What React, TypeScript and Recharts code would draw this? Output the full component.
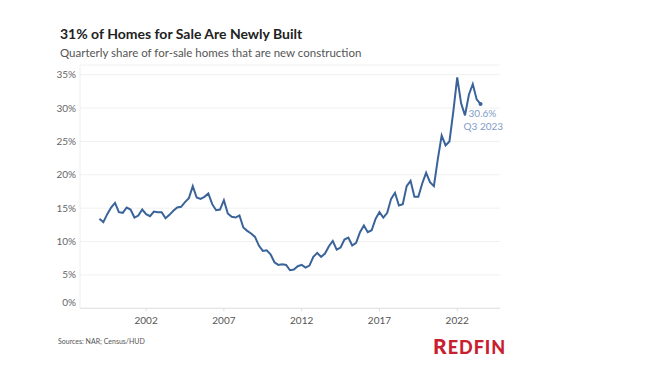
import { CartesianGrid, Line, LineChart, XAxis, YAxis } from 'recharts'

// quarterly share of for-sale homes that are new construction, 1999 Q1 .. 2023 Q3
const FIRST_YEAR = 1999
const newBuildShare = [
  13.4, 12.9, 14.1, 15.1, 15.8, 14.4, 14.3, 15.1, 14.8, 13.6,
  13.9, 14.8, 14.1, 13.8, 14.5, 14.4, 14.4, 13.5, 14.0, 14.6,
  15.1, 15.2, 15.9, 16.5, 18.3, 16.6, 16.4, 16.7, 17.2, 15.6,
  14.7, 14.8, 16.2, 14.2, 13.7, 13.6, 13.9, 12.1, 11.6, 11.2,
  10.7, 9.4, 8.6, 8.7, 8.1, 6.9, 6.5, 6.6, 6.5, 5.7,
  5.8, 6.3, 6.5, 6.1, 6.4, 7.7, 8.3, 7.7, 8.2, 9.3,
  10.1, 8.8, 9.1, 10.3, 10.6, 9.4, 9.8, 11.4, 12.4, 11.4,
  11.7, 13.4, 14.4, 13.6, 14.3, 16.4, 17.3, 15.4, 15.6, 18.3,
  19.1, 16.7, 16.7, 18.7, 20.3, 18.9, 18.3, 22.3, 25.9, 24.4,
  25.0, 29.5, 34.6, 30.7, 28.9, 32.0, 33.6, 31.3, 30.6,
]
const yearTicks = [2002, 2007, 2012, 2017, 2022]
const shareTicks = [0, 5, 10, 15, 20, 25, 30, 35]
const endLabel = ['30.6%', 'Q3 2023']

const data = newBuildShare.map((share, i) => ({
  period: FIRST_YEAR + i / 4,
  share,
}))

const FONT = 'Lato, "Open Sans", sans-serif'
const LINE = '#3a6399'

function YTick({ x, y, payload }: any) {
  // bottom label sits above the baseline, like the original
  const dy = payload.value === 0 ? -2 : 3.5
  return (
    <text x={x} y={y} dy={dy} textAnchor="end" fontSize={10} fill="#666" fontFamily={FONT}>
      {payload.value}%
    </text>
  )
}

function XTick({ x, y, payload }: any) {
  return (
    <text x={x} y={y} dy={11} textAnchor="middle" fontSize={10} fill="#555" fontFamily={FONT}>
      {payload.value}
    </text>
  )
}

function EndDot({ cx, cy, index }: any) {
  if (index !== data.length - 1) return <g key={index} />
  return <circle key={index} cx={cx} cy={cy} r={2} fill={LINE} />
}

function EndLabel({ x, y, index }: any) {
  if (index !== data.length - 1) return <g key={index} />
  return (
    <g key={index} fontFamily={FONT} fontSize={10} fill="#7f9dc6">
      <text x={x - 12} y={y + 13}>{endLabel[0]}</text>
      <text x={x - 17} y={y + 25.5}>{endLabel[1]}</text>
    </g>
  )
}

export default function App() {
  return (
    <div style={{ position: 'absolute', left: 0, top: 0, width: 650, height: 374, background: '#fff' }}>
      <LineChart
        width={650}
        height={374}
        data={data}
        margin={{ top: 65, right: 150, bottom: 45.7, left: 40 }}
      >
        <CartesianGrid vertical={false} stroke="#f0f0f0" />
        <XAxis
          type="number"
          dataKey="period"
          domain={[1997.75, 2024.75]}
          ticks={yearTicks}
          height={20}
          tick={<XTick />}
          tickSize={3}
          tickMargin={2}
          tickLine={{ stroke: '#ddd' }}
          axisLine={{ stroke: '#e2e2e2' }}
        />
        <YAxis
          domain={[0, 36.45]}
          ticks={shareTicks}
          width={40}
          tick={<YTick />}
          tickSize={0}
          tickMargin={4}
          tickLine={false}
          axisLine={{ stroke: '#eeeeee' }}
        />
        <Line
          type="linear"
          dataKey="share"
          stroke={LINE}
          strokeWidth={2}
          dot={<EndDot />}
          activeDot={false}
          label={<EndLabel />}
          isAnimationActive={false}
        />
      </LineChart>
      <svg
        width={650}
        height={374}
        style={{ position: 'absolute', left: 0, top: 0, pointerEvents: 'none' }}
        fontFamily={FONT}
      >
        <text x={60} y={39} fontSize={14} fontWeight={700} fill="#222">
          31% of Homes for Sale Are Newly Built
        </text>
        <text x={60} y={57} fontSize={11.5} fill="#555">
          Quarterly share of for-sale homes that are new construction
        </text>
        <text x={58} y={344} fontSize={7} fill="#555">
          Sources: NAR; Census/HUD
        </text>
        <text x={433} y={354} fill="#c8202f" fontWeight={900} letterSpacing={1}>
          <tspan fontSize={21}>R</tspan>
          <tspan fontSize={18}>EDFIN</tspan>
        </text>
      </svg>
    </div>
  )
}
